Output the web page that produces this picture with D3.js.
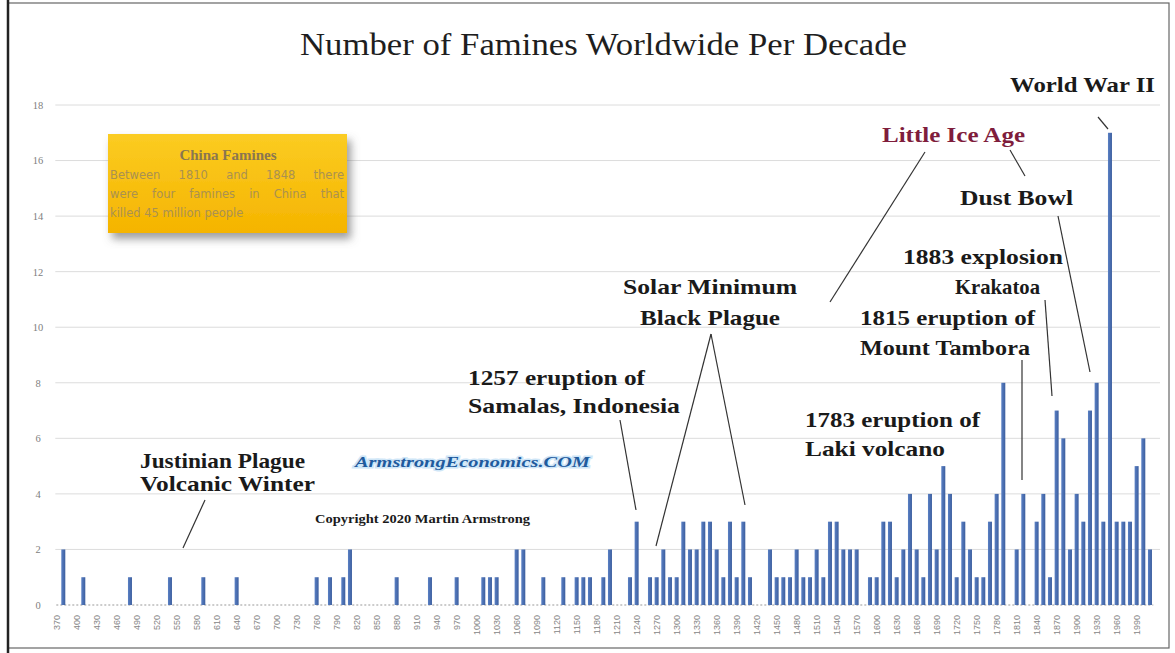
<!DOCTYPE html>
<html>
<head>
<meta charset="utf-8">
<script src="https://cdn.jsdelivr.net/npm/d3@7"></script>
<style>
  html, body { margin: 0; padding: 0; background: #fff; }
  svg { display: block; }
</style>
</head>
<body>
<svg id="chart" width="1175" height="653"></svg>
<script>
// ---------- DATA ----------
const decades = d3.range(370, 2011, 10); // category axis: 370 ... 2010
const famines = [
  0,2,0,0,1,0,0,0,0,0,
  0,1,0,0,0,0,0,1,0,0,
  0,0,1,0,0,0,0,1,0,0,
  0,0,0,0,0,0,0,0,0,1,
  0,1,0,1,2,0,0,0,0,0,
  0,1,0,0,0,0,1,0,0,0,
  1,0,0,0,1,1,1,0,0,2,
  2,0,0,1,0,0,1,0,1,1,
  1,0,1,2,0,0,1,3,0,1,
  1,2,1,1,3,2,2,3,3,2,
  1,3,1,3,1,0,0,2,1,1,
  1,2,1,1,2,1,3,3,2,2,
  2,0,1,1,3,3,1,2,4,2,
  1,4,2,5,4,1,3,2,1,1,
  3,4,8,0,2,4,0,3,4,1,
  7,6,2,4,3,7,8,3,17,3,
  3,3,5,6,2
];
const yTicks = [0,2,4,6,8,10,12,14,16,18];
const xTickLabels = decades.filter((d, i) => i % 3 === 0 && d <= 1990);

const titleText = "Number of Famines Worldwide Per Decade";
const boxTitle = "China Famines";
const boxLines = ["Between 1810 and 1848 there", "were four famines in China that", "killed 45 million people"];

// ---------- SETUP ----------
const svg = d3.select("#chart");
const W = 1175, H = 653;
const plot = { left: 53.3, right: 1153.3, top: 105, bottom: 605 };

const x = d3.scaleBand().domain(decades).range([plot.left, plot.right])
  .paddingInner(0.4).paddingOuter(0.2);
const y = d3.scaleLinear().domain([0, 18]).range([plot.bottom, plot.top]);

const defs = svg.append("defs");
const shadow = defs.append("filter").attr("id", "shadow")
  .attr("x", "-20%").attr("y", "-20%").attr("width", "150%").attr("height", "160%");
shadow.append("feDropShadow").attr("dx", 4).attr("dy", 6).attr("stdDeviation", 4)
  .attr("flood-color", "#6b6b6b").attr("flood-opacity", 0.65);
const grad = defs.append("linearGradient").attr("id", "boxgrad")
  .attr("x1", 0).attr("y1", 0).attr("x2", 0).attr("y2", 1);
grad.append("stop").attr("offset", "0%").attr("stop-color", "#fbcc22");
grad.append("stop").attr("offset", "100%").attr("stop-color", "#f5b400");
const barGrad = defs.append("linearGradient").attr("id", "bargrad")
  .attr("x1", 0).attr("y1", 0).attr("x2", 1).attr("y2", 0);
barGrad.append("stop").attr("offset", "0%").attr("stop-color", "#5a80c4");
barGrad.append("stop").attr("offset", "100%").attr("stop-color", "#3d5f9f");

// frame
svg.append("rect").attr("x", 8).attr("y", 3).attr("width", 1161).attr("height", 645)
  .attr("fill", "none").attr("stroke", "#666").attr("stroke-width", 1.2);
svg.append("line").attr("x1", 8).attr("x2", 8).attr("y1", 0).attr("y2", H)
  .attr("stroke", "#222").attr("stroke-width", 2.5);

// title
svg.append("text").attr("x", 603.5).attr("y", 55).attr("text-anchor", "middle")
  .attr("font-family", "Liberation Serif, DejaVu Serif, serif").attr("font-size", 31)
  .attr("fill", "#1e1e1e").attr("textLength", 607).attr("lengthAdjust", "spacingAndGlyphs")
  .text(titleText);

// gridlines
svg.append("g").selectAll("line").data(yTicks.filter(d => d > 0)).join("line")
  .attr("x1", plot.left + 2).attr("x2", 1160)
  .attr("y1", d => y(d)).attr("y2", d => y(d))
  .attr("stroke", "#dcdcdc").attr("stroke-width", 1);

// y axis labels
const yAxis = d3.axisLeft(y).tickValues(yTicks).tickSize(0).tickPadding(0);
const yg = svg.append("g").attr("transform", "translate(41,0)").call(yAxis);
yg.select(".domain").remove();
yg.selectAll("text").attr("font-family", "Liberation Serif, serif").attr("font-size", 10.5)
  .attr("fill", "#808080").attr("text-anchor", "middle").attr("dx", -3);

// baseline (dotted)
svg.append("line").attr("x1", plot.left + 3).attr("x2", plot.right)
  .attr("y1", y(0)).attr("y2", y(0))
  .attr("stroke", "#9a9a9a").attr("stroke-width", 1.2).attr("stroke-dasharray", "2,2");

// bars
svg.append("g").selectAll("rect").data(decades.map((d, i) => ({ d, v: famines[i] })).filter(o => o.v > 0))
  .join("rect")
  .attr("x", o => x(o.d)).attr("width", x.bandwidth())
  .attr("y", o => y(o.v)).attr("height", o => y(0) - y(o.v))
  .attr("fill", "url(#bargrad)");

// x axis labels
const xAxis = d3.axisBottom(x).tickValues(xTickLabels).tickSize(0).tickPadding(0);
const xg = svg.append("g").attr("transform", `translate(0,${y(0)})`).call(xAxis);
xg.select(".domain").remove();
xg.selectAll("text")
  .attr("font-family", "Liberation Sans, sans-serif").attr("font-size", 9).attr("fill", "#858585")
  .attr("text-anchor", "end").attr("transform", "rotate(-90)")
  .attr("x", -10).attr("y", 0).attr("dy", "0.32em");

// ---------- China Famines box ----------
svg.append("rect").attr("x", 108).attr("y", 134).attr("width", 239).attr("height", 99)
  .attr("fill", "url(#boxgrad)").attr("filter", "url(#shadow)");
svg.append("text").attr("x", 228).attr("y", 160).attr("text-anchor", "middle")
  .attr("font-family", "Liberation Serif, serif").attr("font-weight", "bold").attr("font-size", 15)
  .attr("fill", "#8a7650").text(boxTitle);
const boxLeft = 110, boxWidth = 234;
boxLines.forEach((t, i) => {
  const yy = 179 + i * 19;
  const words = t.split(" ");
  const g = svg.append("g");
  const els = words.map(w => g.append("text").attr("y", yy)
    .attr("font-family", "DejaVu Sans, sans-serif").attr("font-size", 11.5)
    .attr("fill", "#aa9150").text(w));
  const widths = els.map(e => e.node().getComputedTextLength());
  const total = d3.sum(widths);
  const justify = i < boxLines.length - 1;
  const gap = justify ? (boxWidth - total) / (words.length - 1) : 3.6;
  let cx = boxLeft;
  els.forEach((e, k) => { e.attr("x", cx); cx += widths[k] + gap; });
});

// ---------- annotations ----------
const serif = "Liberation Serif, DejaVu Serif, serif";
function note(t, xx, yy, w, opts = {}) {
  const el = svg.append("text").attr("x", xx).attr("y", yy)
    .attr("font-family", serif).attr("font-weight", "bold")
    .attr("font-size", opts.size || 21).attr("fill", opts.fill || "#1a1a1a")
    .attr("text-anchor", "start").text(t);
  if (w) el.attr("textLength", w).attr("lengthAdjust", "spacingAndGlyphs");
  return el;
}
function seg(x1, y1, x2, y2) {
  svg.append("line").attr("x1", x1).attr("y1", y1).attr("x2", x2).attr("y2", y2)
    .attr("stroke", "#333").attr("stroke-width", 1.2);
}

note("World War II", 1010, 92, 145);
seg(1098, 117, 1108, 129);

note("Little Ice Age", 882, 142, 143, { fill: "#7f1d3c" });
seg(925, 152, 830, 302);
seg(1010, 150, 1025, 176);

note("Dust Bowl", 960, 205, 113);
seg(1058, 216, 1090, 372);

note("1883 explosion", 903, 264, 160);
note("Krakatoa", 955, 294, 85);
seg(1045, 300, 1052, 396);

note("1815 eruption of", 860, 325, 175);
note("Mount Tambora", 860, 355, 170);
seg(1022, 360, 1022, 480);

note("1783 eruption of", 805, 427, 175);
note("Laki volcano", 805, 456, 140);

note("Solar Minimum", 623, 294, 174);
note("Black Plague", 640, 325, 140);
seg(711, 334, 656, 546);
seg(711, 334, 745, 505);

note("1257 eruption of", 468, 385, 177);
note("Samalas, Indonesia", 468, 413, 212);
seg(620, 420, 636, 510);

note("Justinian Plague", 140, 468, 165);
note("Volcanic Winter", 140, 491, 175);
seg(205, 500, 183, 548);

svg.append("text").attr("x", 355).attr("y", 467)
  .attr("font-family", serif).attr("font-weight", "bold").attr("font-style", "italic")
  .attr("font-size", 15).attr("fill", "#1f5b9e")
  .attr("stroke", "#cfe6f7").attr("stroke-width", 3).attr("paint-order", "stroke")
  .attr("textLength", 235).attr("lengthAdjust", "spacingAndGlyphs")
  .text("ArmstrongEconomics.COM");

note("Copyright 2020 Martin Armstrong", 315, 523, 215, { size: 11.5 });
</script>
</body>
</html>
